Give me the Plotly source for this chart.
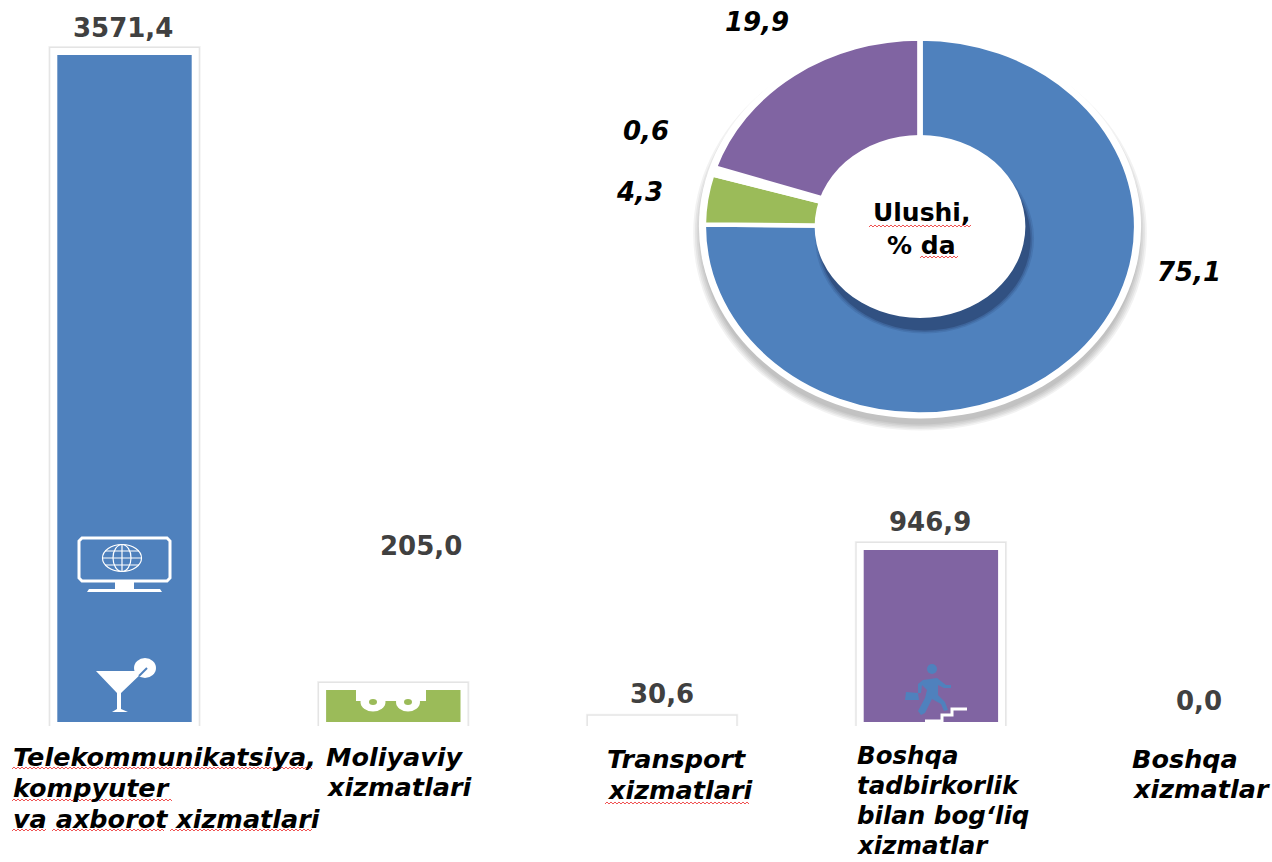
import plotly.graph_objects as go

W, H = 1272, 862

# ---------- data ----------
category_lines = [
    ["Telekommunikatsiya,", "kompyuter", "va axborot xizmatlari"],
    ["Moliyaviy", "xizmatlari"],
    ["Transport", "xizmatlari"],
    ["Boshqa", "tadbirkorlik", "bilan bog‘liq", "xizmatlar"],
    ["Boshqa", "xizmatlar"],
]
volumes = [3571.4, 205.0, 30.6, 946.9, 0.0]
shares = [75.1, 4.3, 0.6, 19.9, 0.0]
colors = ["#4f81bd", "#9bbb59", "#ffffff", "#8064a2", "#c0504d"]
centre_text = ["Ulushi,", "% da"]

# ---------- layout constants ----------
PX_PER_UNIT = 0.1886
ZERO_Y = 728.6
fill_bottom, frame_bottom = 722, 726
bar_x0, bar_step = 124.5, 268.8
cats = [" ".join(c) for c in category_lines]


def fx(x):
    return x / W


def fy(y):
    return 1 - y / H


def comma(v):
    return f"{v:.1f}".replace(".", ",")


def frame_widths(w):
    return [w if v > 0 else 0 for v in volumes]


fig = go.Figure()

# Bars: soft frame (grey edge, white band), then the coloured fill on its own axis
for colour, w in (("#f3f3f3", 18), ("#e4e4e4", 16.5), ("#ffffff", 14)):
    fig.add_bar(x=cats, y=volumes, width=0.5,
                marker=dict(color="#ffffff", line=dict(color=colour, width=frame_widths(w))),
                xaxis="x", yaxis="y", hoverinfo="skip")
fig.add_bar(x=cats, y=volumes, width=0.5, marker=dict(color=colors, line=dict(width=0)),
            xaxis="x", yaxis="y2")

# Donut
PCX, PCY, PD = 920, 226.5, 376
STRETCH = 433 / 376


def dom(cx, cy, d):
    return dict(x=[fx(cx - d / 2), fx(cx + d / 2)], y=[fy(cy + d / 2), fy(cy - d / 2)])


def disc(colour, cx, cy, d):
    fig.add_pie(values=[1], marker=dict(colors=[colour], line=dict(width=0)), domain=dom(cx, cy, d),
                textinfo="none", hoverinfo="skip", showlegend=False, sort=False)


for d in (394, 391, 388, 385, 382):
    disc("rgba(0,0,0,0.05)", PCX, PCY + 7, d)
disc("#ffffff", PCX, PCY, 384)
fig.add_pie(values=shares, labels=cats, sort=False, direction="clockwise", rotation=0,
            marker=dict(colors=colors, line=dict(color="#ffffff", width=4.5)),
            domain=dom(PCX, PCY, PD), textinfo="none", showlegend=False)
for d, a in ((190, 0.12), (187, 0.18), (184, 0.30)):
    disc(f"rgba(20,35,70,{a})", PCX + 4, PCY + 12, d)
disc("#ffffff", PCX, PCY, 183)

# ---------- text ----------
ann = []


def text(s, x, y, size=25.0, color="#000000", italic=False, xanchor="center"):
    ann.append(dict(text=s, x=fx(x), y=fy(y), xref="paper", yref="paper", showarrow=False,
                    xanchor=xanchor, yanchor="middle",
                    font=dict(family="DejaVu Sans", size=size, color=color, weight=700,
                              style="italic" if italic else "normal")))


value_pos = [(123, 28), (421, 546), (662, 694), (930, 522), (1199, 701)]
for v, (x, y) in zip(volumes, value_pos):
    text(comma(v), x, y, size=26, color="#404040")

share_pos = [(1189, 272), (639, 192), (646, 131), (757, 22)]
for v, (x, y) in zip(shares, share_pos):
    text(comma(v), x, y, size=26, italic=True)

label_pos = [
    (11, [757, 788, 819], 25.5),
    (324, [757, 787], 25.5),
    (605, [759, 790], 25.5),
    (855, [755, 785, 815, 845], 24.5),
    (1130, [759, 789], 25.5),
]
for lines, (x, ys, size) in zip(category_lines, label_pos):
    for line, y in zip(lines, ys):
        text(line, x, y, size=size, italic=True, xanchor="left")

text(centre_text[0], 921, 212, size=25)
text(centre_text[1], 921, 245, size=25)

# ---------- decorations (icons and spell-check squiggles) ----------
shapes = []


def P(*pts, close=False):
    d = "M " + " L ".join(f"{fx(x):.5f},{fy(y):.5f}" for x, y in pts)
    return d + (" Z" if close else "")


def poly(pts, fill="#ffffff", line=None, width=0, close=True):
    shapes.append(dict(type="path", xref="paper", yref="paper", path=P(*pts, close=close),
                       fillcolor=fill if close else "rgba(0,0,0,0)",
                       line=dict(color=line or "rgba(0,0,0,0)", width=width)))


def oval(cx, cy, rx, ry, fill="#ffffff", line=None, width=0):
    shapes.append(dict(type="circle", xref="paper", yref="paper",
                       x0=fx(cx - rx), x1=fx(cx + rx), y0=fy(cy + ry), y1=fy(cy - ry),
                       fillcolor=fill, line=dict(color=line or "rgba(0,0,0,0)", width=width)))


def squiggle(x0, x1, y):
    pts = []
    x, up = x0, False
    while x <= x1:
        pts.append((x, y - 1 if up else y + 1))
        x += 2
        up = not up
    poly(pts, line="#f05050", width=1, close=False)


for x0, x1, y in [(12, 313, 768), (12, 172, 800), (12, 46, 830), (52, 165, 830), (170, 313, 830),
                  (605, 749, 803), (869, 972, 226), (920, 958, 257)]:
    squiggle(x0, x1, y)

# monitor with globe
B = "#4f81bd"
poly([(82, 538), (167, 538), (170, 541), (170, 578), (167, 581), (82, 581), (79, 578), (79, 541)],
     fill="rgba(0,0,0,0)", line="#ffffff", width=3)
poly([(115, 581), (134, 581), (134, 589), (160, 589), (162, 592), (87, 592), (89, 589), (115, 589)])
oval(122, 558, 19.5, 13.5, fill="rgba(0,0,0,0)", line="#ffffff", width=1.2)
oval(122, 558, 9, 13.5, fill="rgba(0,0,0,0)", line="#ffffff", width=1.2)
poly([(122, 544.5), (122, 571.5)], line="#ffffff", width=1.2, close=False)
poly([(102.5, 558), (141.5, 558)], line="#ffffff", width=1.2, close=False)
poly([(105, 551), (139, 551)], line="#ffffff", width=1.2, close=False)
poly([(105, 565), (139, 565)], line="#ffffff", width=1.2, close=False)

# cocktail glass
oval(145, 668, 11, 10)
poly([(96, 671), (144, 671), (121, 693), (121, 709), (128, 712), (112, 712), (117, 709), (117, 693)])
poly([(139, 676), (147, 668)], line=B, width=2, close=False)

# wheels cut into the green bar
poly([(356, 688), (426, 688), (426, 701), (356, 701)])
oval(373, 702, 12.5, 9.5)
oval(408, 702, 12, 9.5)
oval(373, 702, 4, 3, fill="#9bbb59")
oval(408, 702, 4, 3, fill="#9bbb59")

# runner on stairs
oval(932, 669, 5, 5, fill=B)
poly([(923, 680), (937, 678), (946, 685), (951, 685), (951, 688), (944, 688), (938, 685), (938, 695),
      (945, 702), (948, 710), (944, 711), (941, 704), (932, 699), (925, 713), (921, 715), (918, 711),
      (925, 698), (927, 690), (922, 685), (921, 693), (918, 693), (918, 684)], fill=B)
poly([(906, 692), (918, 693), (919, 700), (905, 700)], fill=B)
poly([(925, 721), (942, 721), (942, 715), (952, 715), (952, 709), (967, 709)],
     line="#ffffff", width=3, close=False)

# ---------- layout ----------
y_top = ZERO_Y / PX_PER_UNIT
fig.update_layout(
    width=W, height=H, margin=dict(l=0, r=0, t=0, b=0),
    paper_bgcolor="#ffffff", plot_bgcolor="rgba(0,0,0,0)",
    barmode="overlay", showlegend=False, annotations=ann, shapes=shapes,
    xaxis=dict(domain=[0, 1], type="category", categoryorder="array", categoryarray=cats,
               range=[-bar_x0 / bar_step, (W - bar_x0) / bar_step], visible=False, anchor="y"),
    yaxis=dict(domain=[fy(frame_bottom), 1], range=[(ZERO_Y - frame_bottom) / PX_PER_UNIT, y_top],
               visible=False, anchor="x"),
    yaxis2=dict(domain=[fy(fill_bottom), 1], range=[(ZERO_Y - fill_bottom) / PX_PER_UNIT, y_top],
                visible=False, anchor="x"),
)

post = f"""
document.body.style.margin = '0';
var lay = document.querySelector('.pielayer');
if (lay) lay.setAttribute('transform', 'translate({PCX * (1 - STRETCH):.3f},0) scale({STRETCH:.4f},1)');
"""
fig.write_html("out.html", post_script=post, config={"displayModeBar": False})
